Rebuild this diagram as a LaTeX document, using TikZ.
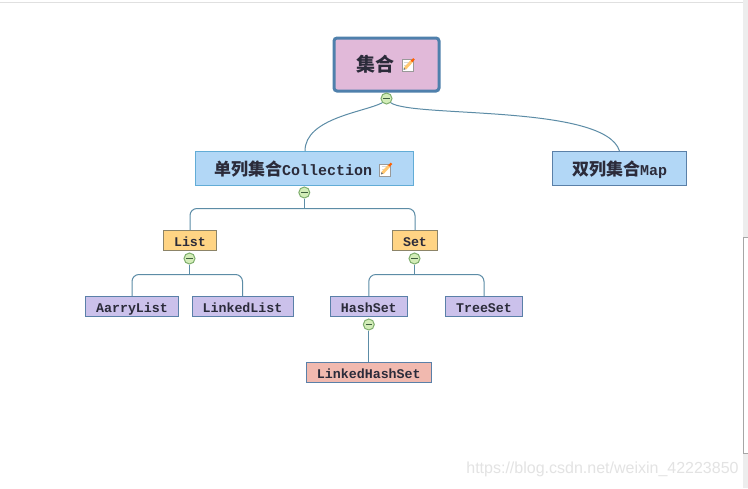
\documentclass[tikz,border=0pt]{standalone}
\usepackage{fontspec}
\setmainfont{Liberation Mono}
\newfontfamily\cjk{Noto Sans CJK SC}
\newfontfamily\wm{Liberation Sans}
\usetikzlibrary{calc}
\definecolor{link}{HTML}{5C8CA6}
\definecolor{inkc}{HTML}{2B2B3A}
\definecolor{HTMLroot}{HTML}{4F80AC}
\definecolor{HTMLrootf}{HTML}{E1B9D9}
\definecolor{HTMLmid}{HTML}{B2D7F6}
\definecolor{HTMLmidb}{HTML}{62ACD6}
\definecolor{HTMLtb}{HTML}{8C8468}
\definecolor{HTMLtopic}{HTML}{FFD484}
\definecolor{HTMLlb}{HTML}{5A80A8}
\definecolor{HTMLleaf}{HTML}{CBC1EB}
\definecolor{HTMLred}{HTML}{F1B9AF}
\definecolor{HTMLtogd}{HTML}{7FAE6E}
\definecolor{HTMLtog}{HTML}{D3EDB8}
\definecolor{HTMLmin}{HTML}{3F5F3F}
\tikzset{
  x=1pt,y=-1pt,
  box/.style={draw,inner sep=0pt,line width=1pt,text=inkc,anchor=center},
  rootbox/.style={box,draw=HTMLroot,fill=HTMLrootf,line width=3pt,rounded corners=3pt,minimum width=105pt,minimum height=53pt,font=\cjk\fontsize{19}{19}\selectfont\bfseries},
  midbox/.style={box,fill=HTMLmid,minimum height=33.5pt,text height=14pt,text depth=1pt,font=\fontsize{15}{15}\selectfont\bfseries},
  smallbox/.style={box,minimum height=20.5pt,text height=12pt,text depth=1pt,font=\fontsize{13.3}{14}\selectfont\bfseries},
  topicbox/.style={smallbox,draw=HTMLtb,fill=HTMLtopic},
  leafbox/.style={smallbox,draw=HTMLlb,fill=HTMLleaf},
  redbox/.style={smallbox,draw=HTMLlb,fill=HTMLred},
  toggle/.style={circle,draw=HTMLtogd,fill=HTMLtog,line width=1pt,minimum size=11pt,inner sep=0pt},
  conn/.style={draw=link,line width=1pt},
  branch/.style={conn,rounded corners=7pt},
  minus/.style={draw=HTMLmin,line width=1pt},
}
\newcommand{\toggleat}[3]{%
  \node[toggle] (#1) at (#2,#3) {};
  \draw[minus] ($(#1.center)+(-3.2,0)$) -- ($(#1.center)+(3.2,0)$);}
\newcommand{\noteicon}[2]{%
  \begin{scope}[shift={(#1,#2)}]
    \fill[white,draw=black!40,line width=.8pt] (-6.5,-5.5) rectangle (4.5,6.5);
    \draw[black!15,line width=.6pt] (-4.5,-3) -- (1,-3) (-4.5,0) -- (-1,0) (-4.5,3) -- (-3,3);
    \draw[HTMLtopic!85!orange,line width=3pt] (-3.5,3.5) -- (3,-3.5);
    \draw[orange!75!red,line width=2.2pt] (3,-3.5) -- (5.5,-6.2);
    \fill[black!55] (-5,5) -- (-4.6,2.6) -- (-2.8,4.2) -- cycle;
  \end{scope}}
\begin{document}
\begin{tikzpicture}
\useasboundingbox (0,0) rectangle (748,488);
\fill[white] (0,0) rectangle (748,488);
\draw[black!12,line width=1.5pt] (0,2.5) -- (748,2.5);
\fill[black!7] (743,0) rectangle (748,488);
\fill[white,draw=black!35,line width=.8pt] (743.5,237) rectangle (749,453);
\node[font=\wm\fontsize{16}{16}\selectfont,text=black!11,inner sep=0pt] (mark) at (602.5,469) {https://blog.csdn.net/weixin\_42223850};

\node[rootbox] (root) at (386.5,64.5) {集合\rule{23pt}{0pt}};
\node[midbox,draw=HTMLmidb,minimum width=218pt] (coll) at (304.2,168.5) {{\cjk\fontsize{17}{17}\selectfont 单列集合}Collection\rule{22pt}{0pt}};
\node[midbox,draw=HTMLlb,minimum width=134.5pt] (map) at (619.5,168.5) {{\cjk\fontsize{17}{17}\selectfont 双列集合}Map};
\node[topicbox,minimum width=53pt] (list) at (190,240.5) {List};
\node[topicbox,minimum width=45pt] (set) at (415,240.5) {Set};
\node[leafbox,minimum width=93pt] (aarry) at (132,306.5) {AarryList};
\node[leafbox,minimum width=101pt] (linked) at (242.5,306.5) {LinkedList};
\node[leafbox,minimum width=77pt] (hash) at (368.8,306.5) {HashSet};
\node[leafbox,minimum width=77pt] (tree) at (484,306.5) {TreeSet};
\node[redbox,minimum width=124.5pt] (lhs) at (368.8,372.5) {LinkedHashSet};

\toggleat{t0}{386.5}{98.5}
\toggleat{t1}{304.3}{192.5}
\toggleat{t2}{189.5}{258.5}
\toggleat{t3}{414.5}{258.5}
\toggleat{t4}{368.8}{324.5}

\noteicon{408.5}{65}
\noteicon{386}{169.5}

\coordinate (collin) at (305,151);
\coordinate (mapin) at (619.5,151);
\draw[conn] (t0.south west) .. controls (365,112) and (305,118) .. (collin);
\draw[conn] (t0.south east) .. controls (412,118) and (605,104) .. (mapin);

\coordinate (b1) at (304.3,208.5);
\draw[conn] (t1.south) -- (b1);
\draw[branch] (list.north) -- (list.north |- b1) -- (set.north |- b1) -- (set.north);
\coordinate (b2) at (189.5,274.5);
\draw[conn] (t2.south) -- (b2);
\draw[branch] (aarry.north) -- (aarry.north |- b2) -- (linked.north |- b2) -- (linked.north);
\coordinate (b3) at (414.5,274.5);
\draw[conn] (t3.south) -- (b3);
\draw[branch] (hash.north) -- (hash.north |- b3) -- (tree.north |- b3) -- (tree.north);
\draw[conn] (t4.south) -- (lhs.north);
\end{tikzpicture}
\end{document}
